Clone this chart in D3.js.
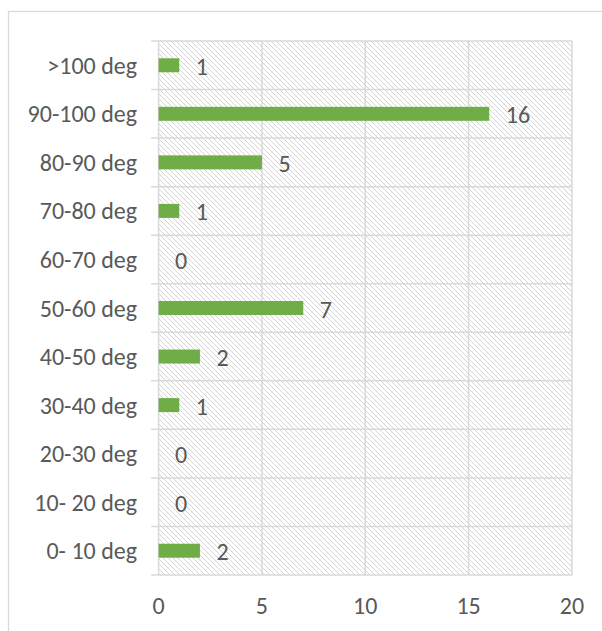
<!DOCTYPE html>
<html>
<head>
<meta charset="utf-8">
<script src="https://cdn.jsdelivr.net/npm/d3@7"></script>
<style>
  html, body { margin: 0; padding: 0; background: #fff; }
  svg { display: block; }
  text { font-family: Carlito, Calibri, Lato, "Open Sans", sans-serif; fill: #595959; }
</style>
</head>
<body>
<svg id="chart" width="602" height="631"></svg>
<script>
const categories = ["0- 10 deg","10- 20 deg","20-30 deg","30-40 deg","40-50 deg","50-60 deg","60-70 deg","70-80 deg","80-90 deg","90-100 deg",">100 deg"];
const values = [2,0,0,1,2,7,0,1,5,16,1];
const xTicks = [0,5,10,15,20];

const svg = d3.select("#chart");
const plot = {left: 158.6, right: 571.9, top: 41, bottom: 575};
const fontSize = "24px";

// outer chart border
svg.append("rect").attr("x", 8.5).attr("y", 11.5).attr("width", 620).attr("height", 640)
  .attr("fill", "#fff").attr("stroke", "#d9d9d9").attr("stroke-width", 1.3);

// hatch pattern
const defs = svg.append("defs");
const pat = defs.append("pattern").attr("id", "hatch").attr("patternUnits", "userSpaceOnUse")
  .attr("width", 5).attr("height", 5);
pat.append("rect").attr("width", 5).attr("height", 5).attr("fill", "#fff");
pat.append("path").attr("d", "M-1,-1 L6,6 M-1,4 L1,6 M4,-1 L6,1")
  .attr("stroke", "#d4d4d4").attr("stroke-width", 1);

const x = d3.scaleLinear().domain([0, 20]).range([plot.left, plot.right]);
const y = d3.scaleBand().domain(categories.slice().reverse()).range([plot.top, plot.bottom]).paddingInner(0).paddingOuter(0);

svg.append("rect").attr("x", plot.left).attr("y", plot.top)
  .attr("width", plot.right - plot.left).attr("height", plot.bottom - plot.top)
  .attr("fill", "url(#hatch)");

// vertical gridlines
svg.append("g").selectAll("line").data(xTicks).join("line")
  .attr("x1", d => x(d)).attr("x2", d => x(d))
  .attr("y1", plot.top).attr("y2", plot.bottom)
  .attr("stroke", "#d9d9d9").attr("stroke-width", 1.5);

// horizontal gridlines at category boundaries (with ticks on the left)
const bounds = categories.map(c => y(c)).concat([plot.bottom]);
svg.append("g").selectAll("line").data(bounds).join("line")
  .attr("x1", plot.left - 7.5).attr("x2", plot.right)
  .attr("y1", d => d).attr("y2", d => d)
  .attr("stroke", "#d9d9d9").attr("stroke-width", 1.5);

// bars
const barH = 14;
svg.append("g").selectAll("rect").data(categories).join("rect")
  .attr("x", x(0))
  .attr("y", c => y(c) + y.bandwidth() / 2 - barH / 2)
  .attr("width", (c, i) => x(values[i]) - x(0))
  .attr("height", barH)
  .attr("fill", "#70ad47");

// value labels
svg.append("g").selectAll("text").data(categories).join("text")
  .attr("x", (c, i) => x(values[i]) + 16.5)
  .attr("y", c => y(c) + y.bandwidth() / 2 + 9.5)
  .attr("font-size", fontSize)
  .text((c, i) => values[i]);

// category labels
svg.append("g").selectAll("text").data(categories).join("text")
  .attr("x", 137)
  .attr("y", c => y(c) + y.bandwidth() / 2 + 8.5)
  .attr("text-anchor", "end")
  .attr("font-size", fontSize)
  .text(c => c);

// x tick labels
svg.append("g").selectAll("text").data(xTicks).join("text")
  .attr("x", d => x(d))
  .attr("y", 614)
  .attr("text-anchor", "middle")
  .attr("font-size", fontSize)
  .text(d => d);
</script>
</body>
</html>
